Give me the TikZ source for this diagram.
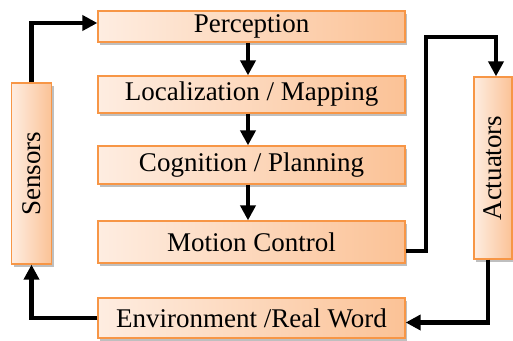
\documentclass[tikz,border=0pt]{standalone}
\usepackage{fontspec}
\setmainfont{Liberation Serif}
\newfontfamily\tnr{Liberation Serif}
\usetikzlibrary{arrows.meta,shadows}
\definecolor{oL}{HTML}{FEEDE1}
\definecolor{oR}{HTML}{FBC296}
\definecolor{oB}{HTML}{F79646}
\tikzset{
  box/.style={draw=oB, line width=1.3pt, left color=oL, right color=oR,
    inner sep=0pt, font=\tnr\fontsize{27}{30}\selectfont,
    drop shadow={shadow xshift=2pt, shadow yshift=-2.5pt, opacity=0.25, fill=black}},
  flow/.style={line width=4.5pt, -{Triangle[length=15pt,width=15pt]}}
}
\begin{document}
\begin{tikzpicture}[x=1pt,y=-1pt]
\useasboundingbox (0,0) rectangle (513,340);
\node[box, minimum width=307pt, minimum height=31pt] (perc) at (251.5,26.5) {Perception};
\node[box, minimum width=307pt, minimum height=37pt] (loc) at (251.5,94.5) {Localization / Mapping};
\node[box, minimum width=307pt, minimum height=38pt] (cog) at (251.5,165) {Cognition / Planning};
\node[box, minimum width=307pt, minimum height=42pt] (mot) at (251.5,242) {Motion Control};
\node[box, minimum width=307pt, minimum height=40pt] (env) at (251.5,318) {Environment /Real Word};
\node[box, minimum width=40pt, minimum height=181pt] (sen) at (31.5,173.5) {\rotatebox{90}{Sensors}};
\node[box, minimum width=38pt, minimum height=182pt] (act) at (493,168) {\rotatebox{90}{Actuators}};
\coordinate (c1) at (31.5,23);
\coordinate (c2) at (426,37);
\coordinate (c3) at (488,322.5);
\coordinate (c4) at (31.5,318);
\draw[flow] (sen.north) -- (c1) -- (c1 -| perc.west);
\draw[flow] ([xshift=-3.5pt]perc.south) -- ([xshift=-3.5pt]loc.north);
\draw[flow] ([xshift=-3.5pt]loc.south) -- ([xshift=-3.5pt]cog.north);
\draw[flow] ([xshift=-3.5pt]cog.south) -- ([xshift=-3.5pt]mot.north);
\draw[flow] ([yshift=-9pt]mot.east) -| (c2) -| ([xshift=3pt]act.north);
\draw[flow] (act.south -| c3) -- (c3) -- (c3 -| env.east);
\draw[flow] (env.west |- c4) -- (c4) -- (sen.south);
\end{tikzpicture}
\end{document}
